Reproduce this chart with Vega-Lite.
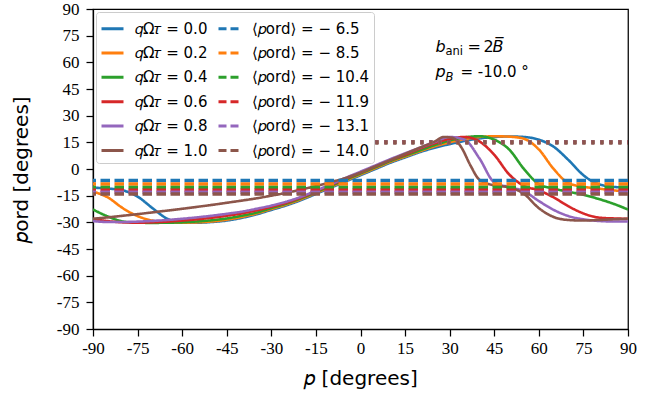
{
  "$schema": "https://vega.github.io/schema/vega-lite/v6.json",
  "width": 535,
  "height": 320,
  "autosize": {"type": "none"},
  "padding": {"left": 93, "top": 9, "right": 33, "bottom": 75},
  "background": "white",
  "config": {
    "font": "DejaVu Sans",
    "view": {"stroke": "#000", "strokeWidth": 1.25},
    "axis": {
      "domainColor": "#000", "domainWidth": 1.25,
      "tickColor": "#000", "tickWidth": 1.25, "tickSize": 7,
      "labelFont": "Liberation Serif", "labelFontSize": 17, "labelColor": "#000",
      "labelPadding": 4, "labelFlush": false, "labelOverlap": false,
      "titleFont": "DejaVu Sans", "titleFontSize": 20, "titleFontWeight": "normal", "titleColor": "#000",
      "grid": false
    },
    "legend": {
      "orient": "top-left", "offset": 3, "padding": 4,
      "strokeColor": "#cccccc", "fillColor": "white", "cornerRadius": 3,
      "symbolType": "stroke", "symbolSize": 484, "symbolStrokeWidth": 3,
      "labelFont": "DejaVu Sans", "labelFontSize": 15, "labelColor": "#000",
      "labelOffset": 10, "rowPadding": 3.4, "columnPadding": 4, "columns": 2,
      "labelLimit": 200
    },
    "text": {"font": "DejaVu Sans", "color": "#000", "align": "left", "baseline": "alphabetic"}
  },
  "datasets": {
    "curves": [
      {"s": "𝑞Ω𝜏 = 0.0", "p": -90, "v": -10.5}, {"s": "𝑞Ω𝜏 = 0.0", "p": -85, "v": -11}, {"s": "𝑞Ω𝜏 = 0.0", "p": -80, "v": -12},
      {"s": "𝑞Ω𝜏 = 0.0", "p": -75, "v": -15.5}, {"s": "𝑞Ω𝜏 = 0.0", "p": -70, "v": -22}, {"s": "𝑞Ω𝜏 = 0.0", "p": -65, "v": -28},
      {"s": "𝑞Ω𝜏 = 0.0", "p": -60, "v": -30}, {"s": "𝑞Ω𝜏 = 0.0", "p": -55, "v": -30.2}, {"s": "𝑞Ω𝜏 = 0.0", "p": -50, "v": -29.8},
      {"s": "𝑞Ω𝜏 = 0.0", "p": -45, "v": -29}, {"s": "𝑞Ω𝜏 = 0.0", "p": -40, "v": -27.5}, {"s": "𝑞Ω𝜏 = 0.0", "p": -35, "v": -25.5},
      {"s": "𝑞Ω𝜏 = 0.0", "p": -30, "v": -23}, {"s": "𝑞Ω𝜏 = 0.0", "p": -25, "v": -20.5}, {"s": "𝑞Ω𝜏 = 0.0", "p": -20, "v": -17.5},
      {"s": "𝑞Ω𝜏 = 0.0", "p": -15, "v": -14}, {"s": "𝑞Ω𝜏 = 0.0", "p": -10, "v": -10.5}, {"s": "𝑞Ω𝜏 = 0.0", "p": -5, "v": -7},
      {"s": "𝑞Ω𝜏 = 0.0", "p": 0, "v": -3.5}, {"s": "𝑞Ω𝜏 = 0.0", "p": 5, "v": 0}, {"s": "𝑞Ω𝜏 = 0.0", "p": 10, "v": 3.5},
      {"s": "𝑞Ω𝜏 = 0.0", "p": 15, "v": 6.5}, {"s": "𝑞Ω𝜏 = 0.0", "p": 20, "v": 9.5}, {"s": "𝑞Ω𝜏 = 0.0", "p": 25, "v": 12},
      {"s": "𝑞Ω𝜏 = 0.0", "p": 30, "v": 14}, {"s": "𝑞Ω𝜏 = 0.0", "p": 35, "v": 15.8}, {"s": "𝑞Ω𝜏 = 0.0", "p": 40, "v": 17.2},
      {"s": "𝑞Ω𝜏 = 0.0", "p": 45, "v": 18}, {"s": "𝑞Ω𝜏 = 0.0", "p": 50, "v": 18.3}, {"s": "𝑞Ω𝜏 = 0.0", "p": 55, "v": 18},
      {"s": "𝑞Ω𝜏 = 0.0", "p": 60, "v": 16.5}, {"s": "𝑞Ω𝜏 = 0.0", "p": 65, "v": 12.5}, {"s": "𝑞Ω𝜏 = 0.0", "p": 70, "v": 5},
      {"s": "𝑞Ω𝜏 = 0.0", "p": 75, "v": -3.5}, {"s": "𝑞Ω𝜏 = 0.0", "p": 80, "v": -8.5}, {"s": "𝑞Ω𝜏 = 0.0", "p": 85, "v": -10},
      {"s": "𝑞Ω𝜏 = 0.0", "p": 90, "v": -10.5},

      {"s": "𝑞Ω𝜏 = 0.2", "p": -90, "v": -12.7}, {"s": "𝑞Ω𝜏 = 0.2", "p": -85, "v": -16}, {"s": "𝑞Ω𝜏 = 0.2", "p": -80, "v": -22},
      {"s": "𝑞Ω𝜏 = 0.2", "p": -75, "v": -26.5}, {"s": "𝑞Ω𝜏 = 0.2", "p": -70, "v": -29}, {"s": "𝑞Ω𝜏 = 0.2", "p": -65, "v": -30},
      {"s": "𝑞Ω𝜏 = 0.2", "p": -60, "v": -30.2}, {"s": "𝑞Ω𝜏 = 0.2", "p": -55, "v": -30}, {"s": "𝑞Ω𝜏 = 0.2", "p": -50, "v": -29.5},
      {"s": "𝑞Ω𝜏 = 0.2", "p": -45, "v": -28.5}, {"s": "𝑞Ω𝜏 = 0.2", "p": -40, "v": -27}, {"s": "𝑞Ω𝜏 = 0.2", "p": -35, "v": -25},
      {"s": "𝑞Ω𝜏 = 0.2", "p": -30, "v": -22.5}, {"s": "𝑞Ω𝜏 = 0.2", "p": -25, "v": -20}, {"s": "𝑞Ω𝜏 = 0.2", "p": -20, "v": -17},
      {"s": "𝑞Ω𝜏 = 0.2", "p": -15, "v": -13.5}, {"s": "𝑞Ω𝜏 = 0.2", "p": -10, "v": -10}, {"s": "𝑞Ω𝜏 = 0.2", "p": -5, "v": -6.5},
      {"s": "𝑞Ω𝜏 = 0.2", "p": 0, "v": -3}, {"s": "𝑞Ω𝜏 = 0.2", "p": 5, "v": 0.5}, {"s": "𝑞Ω𝜏 = 0.2", "p": 10, "v": 4},
      {"s": "𝑞Ω𝜏 = 0.2", "p": 15, "v": 7}, {"s": "𝑞Ω𝜏 = 0.2", "p": 20, "v": 10}, {"s": "𝑞Ω𝜏 = 0.2", "p": 25, "v": 12.8},
      {"s": "𝑞Ω𝜏 = 0.2", "p": 30, "v": 15}, {"s": "𝑞Ω𝜏 = 0.2", "p": 35, "v": 16.8}, {"s": "𝑞Ω𝜏 = 0.2", "p": 40, "v": 18},
      {"s": "𝑞Ω𝜏 = 0.2", "p": 45, "v": 18.4}, {"s": "𝑞Ω𝜏 = 0.2", "p": 50, "v": 18.2}, {"s": "𝑞Ω𝜏 = 0.2", "p": 55, "v": 17},
      {"s": "𝑞Ω𝜏 = 0.2", "p": 60, "v": 11}, {"s": "𝑞Ω𝜏 = 0.2", "p": 65, "v": 0}, {"s": "𝑞Ω𝜏 = 0.2", "p": 70, "v": -8},
      {"s": "𝑞Ω𝜏 = 0.2", "p": 75, "v": -10}, {"s": "𝑞Ω𝜏 = 0.2", "p": 80, "v": -11}, {"s": "𝑞Ω𝜏 = 0.2", "p": 85, "v": -12},
      {"s": "𝑞Ω𝜏 = 0.2", "p": 90, "v": -12.7},

      {"s": "𝑞Ω𝜏 = 0.4", "p": -90, "v": -22.8}, {"s": "𝑞Ω𝜏 = 0.4", "p": -85, "v": -26.7}, {"s": "𝑞Ω𝜏 = 0.4", "p": -80, "v": -29.5},
      {"s": "𝑞Ω𝜏 = 0.4", "p": -75, "v": -30.2}, {"s": "𝑞Ω𝜏 = 0.4", "p": -70, "v": -30.3}, {"s": "𝑞Ω𝜏 = 0.4", "p": -65, "v": -30.2},
      {"s": "𝑞Ω𝜏 = 0.4", "p": -60, "v": -30}, {"s": "𝑞Ω𝜏 = 0.4", "p": -55, "v": -29.5}, {"s": "𝑞Ω𝜏 = 0.4", "p": -50, "v": -28.8},
      {"s": "𝑞Ω𝜏 = 0.4", "p": -45, "v": -27.8}, {"s": "𝑞Ω𝜏 = 0.4", "p": -40, "v": -26.3}, {"s": "𝑞Ω𝜏 = 0.4", "p": -35, "v": -24.5},
      {"s": "𝑞Ω𝜏 = 0.4", "p": -30, "v": -22}, {"s": "𝑞Ω𝜏 = 0.4", "p": -25, "v": -19.5}, {"s": "𝑞Ω𝜏 = 0.4", "p": -20, "v": -16.5},
      {"s": "𝑞Ω𝜏 = 0.4", "p": -15, "v": -13}, {"s": "𝑞Ω𝜏 = 0.4", "p": -10, "v": -9.5}, {"s": "𝑞Ω𝜏 = 0.4", "p": -5, "v": -6},
      {"s": "𝑞Ω𝜏 = 0.4", "p": 0, "v": -2.5}, {"s": "𝑞Ω𝜏 = 0.4", "p": 5, "v": 1}, {"s": "𝑞Ω𝜏 = 0.4", "p": 10, "v": 4.5},
      {"s": "𝑞Ω𝜏 = 0.4", "p": 15, "v": 7.5}, {"s": "𝑞Ω𝜏 = 0.4", "p": 20, "v": 10.5}, {"s": "𝑞Ω𝜏 = 0.4", "p": 25, "v": 13.5},
      {"s": "𝑞Ω𝜏 = 0.4", "p": 30, "v": 16}, {"s": "𝑞Ω𝜏 = 0.4", "p": 35, "v": 17.8}, {"s": "𝑞Ω𝜏 = 0.4", "p": 40, "v": 18.4},
      {"s": "𝑞Ω𝜏 = 0.4", "p": 45, "v": 16.5}, {"s": "𝑞Ω𝜏 = 0.4", "p": 50, "v": 11}, {"s": "𝑞Ω𝜏 = 0.4", "p": 55, "v": 0},
      {"s": "𝑞Ω𝜏 = 0.4", "p": 60, "v": -8.5}, {"s": "𝑞Ω𝜏 = 0.4", "p": 65, "v": -11}, {"s": "𝑞Ω𝜏 = 0.4", "p": 70, "v": -12.8},
      {"s": "𝑞Ω𝜏 = 0.4", "p": 75, "v": -14.5}, {"s": "𝑞Ω𝜏 = 0.4", "p": 80, "v": -16.8}, {"s": "𝑞Ω𝜏 = 0.4", "p": 85, "v": -19.5},
      {"s": "𝑞Ω𝜏 = 0.4", "p": 90, "v": -22.8},

      {"s": "𝑞Ω𝜏 = 0.6", "p": -90, "v": -28}, {"s": "𝑞Ω𝜏 = 0.6", "p": -85, "v": -29.3}, {"s": "𝑞Ω𝜏 = 0.6", "p": -80, "v": -30},
      {"s": "𝑞Ω𝜏 = 0.6", "p": -75, "v": -30.2}, {"s": "𝑞Ω𝜏 = 0.6", "p": -70, "v": -30}, {"s": "𝑞Ω𝜏 = 0.6", "p": -65, "v": -29.6},
      {"s": "𝑞Ω𝜏 = 0.6", "p": -60, "v": -29}, {"s": "𝑞Ω𝜏 = 0.6", "p": -55, "v": -28.3}, {"s": "𝑞Ω𝜏 = 0.6", "p": -50, "v": -27.4},
      {"s": "𝑞Ω𝜏 = 0.6", "p": -45, "v": -26.3}, {"s": "𝑞Ω𝜏 = 0.6", "p": -40, "v": -25}, {"s": "𝑞Ω𝜏 = 0.6", "p": -35, "v": -23.3},
      {"s": "𝑞Ω𝜏 = 0.6", "p": -30, "v": -21.3}, {"s": "𝑞Ω𝜏 = 0.6", "p": -25, "v": -19}, {"s": "𝑞Ω𝜏 = 0.6", "p": -20, "v": -16},
      {"s": "𝑞Ω𝜏 = 0.6", "p": -15, "v": -12.5}, {"s": "𝑞Ω𝜏 = 0.6", "p": -10, "v": -9}, {"s": "𝑞Ω𝜏 = 0.6", "p": -5, "v": -5.5},
      {"s": "𝑞Ω𝜏 = 0.6", "p": 0, "v": -2}, {"s": "𝑞Ω𝜏 = 0.6", "p": 5, "v": 1.5}, {"s": "𝑞Ω𝜏 = 0.6", "p": 10, "v": 5},
      {"s": "𝑞Ω𝜏 = 0.6", "p": 15, "v": 8}, {"s": "𝑞Ω𝜏 = 0.6", "p": 20, "v": 11.5}, {"s": "𝑞Ω𝜏 = 0.6", "p": 25, "v": 14.5},
      {"s": "𝑞Ω𝜏 = 0.6", "p": 30, "v": 17}, {"s": "𝑞Ω𝜏 = 0.6", "p": 35, "v": 18}, {"s": "𝑞Ω𝜏 = 0.6", "p": 40, "v": 15.5},
      {"s": "𝑞Ω𝜏 = 0.6", "p": 45, "v": 8}, {"s": "𝑞Ω𝜏 = 0.6", "p": 50, "v": -3}, {"s": "𝑞Ω𝜏 = 0.6", "p": 55, "v": -9.5},
      {"s": "𝑞Ω𝜏 = 0.6", "p": 60, "v": -12}, {"s": "𝑞Ω𝜏 = 0.6", "p": 65, "v": -16}, {"s": "𝑞Ω𝜏 = 0.6", "p": 70, "v": -21},
      {"s": "𝑞Ω𝜏 = 0.6", "p": 75, "v": -25}, {"s": "𝑞Ω𝜏 = 0.6", "p": 80, "v": -27.3}, {"s": "𝑞Ω𝜏 = 0.6", "p": 85, "v": -27.8},
      {"s": "𝑞Ω𝜏 = 0.6", "p": 90, "v": -28},

      {"s": "𝑞Ω𝜏 = 0.8", "p": -90, "v": -29.3}, {"s": "𝑞Ω𝜏 = 0.8", "p": -85, "v": -29.8}, {"s": "𝑞Ω𝜏 = 0.8", "p": -80, "v": -29.8},
      {"s": "𝑞Ω𝜏 = 0.8", "p": -75, "v": -29.6}, {"s": "𝑞Ω𝜏 = 0.8", "p": -70, "v": -29.2}, {"s": "𝑞Ω𝜏 = 0.8", "p": -65, "v": -28.7},
      {"s": "𝑞Ω𝜏 = 0.8", "p": -60, "v": -28}, {"s": "𝑞Ω𝜏 = 0.8", "p": -55, "v": -27.2}, {"s": "𝑞Ω𝜏 = 0.8", "p": -50, "v": -26.3},
      {"s": "𝑞Ω𝜏 = 0.8", "p": -45, "v": -25.2}, {"s": "𝑞Ω𝜏 = 0.8", "p": -40, "v": -24}, {"s": "𝑞Ω𝜏 = 0.8", "p": -35, "v": -22.4},
      {"s": "𝑞Ω𝜏 = 0.8", "p": -30, "v": -20.6}, {"s": "𝑞Ω𝜏 = 0.8", "p": -25, "v": -18.4}, {"s": "𝑞Ω𝜏 = 0.8", "p": -20, "v": -15.6},
      {"s": "𝑞Ω𝜏 = 0.8", "p": -15, "v": -12.2}, {"s": "𝑞Ω𝜏 = 0.8", "p": -10, "v": -8.6}, {"s": "𝑞Ω𝜏 = 0.8", "p": -5, "v": -5},
      {"s": "𝑞Ω𝜏 = 0.8", "p": 0, "v": -1.5}, {"s": "𝑞Ω𝜏 = 0.8", "p": 5, "v": 2}, {"s": "𝑞Ω𝜏 = 0.8", "p": 10, "v": 5.5},
      {"s": "𝑞Ω𝜏 = 0.8", "p": 15, "v": 8.8}, {"s": "𝑞Ω𝜏 = 0.8", "p": 20, "v": 12}, {"s": "𝑞Ω𝜏 = 0.8", "p": 25, "v": 15.2},
      {"s": "𝑞Ω𝜏 = 0.8", "p": 30, "v": 18}, {"s": "𝑞Ω𝜏 = 0.8", "p": 35, "v": 16.5}, {"s": "𝑞Ω𝜏 = 0.8", "p": 40, "v": 6},
      {"s": "𝑞Ω𝜏 = 0.8", "p": 45, "v": -7.5}, {"s": "𝑞Ω𝜏 = 0.8", "p": 50, "v": -10.2}, {"s": "𝑞Ω𝜏 = 0.8", "p": 55, "v": -12.5},
      {"s": "𝑞Ω𝜏 = 0.8", "p": 60, "v": -18}, {"s": "𝑞Ω𝜏 = 0.8", "p": 65, "v": -23}, {"s": "𝑞Ω𝜏 = 0.8", "p": 70, "v": -26.5},
      {"s": "𝑞Ω𝜏 = 0.8", "p": 75, "v": -28.3}, {"s": "𝑞Ω𝜏 = 0.8", "p": 80, "v": -29.2}, {"s": "𝑞Ω𝜏 = 0.8", "p": 85, "v": -29.5},
      {"s": "𝑞Ω𝜏 = 0.8", "p": 90, "v": -29.5},

      {"s": "𝑞Ω𝜏 = 1.0", "p": -90, "v": -28}, {"s": "𝑞Ω𝜏 = 1.0", "p": -85, "v": -27.2}, {"s": "𝑞Ω𝜏 = 1.0", "p": -80, "v": -26.3},
      {"s": "𝑞Ω𝜏 = 1.0", "p": -75, "v": -25.4}, {"s": "𝑞Ω𝜏 = 1.0", "p": -70, "v": -24.4}, {"s": "𝑞Ω𝜏 = 1.0", "p": -65, "v": -23.4},
      {"s": "𝑞Ω𝜏 = 1.0", "p": -60, "v": -22.4}, {"s": "𝑞Ω𝜏 = 1.0", "p": -55, "v": -21.3}, {"s": "𝑞Ω𝜏 = 1.0", "p": -50, "v": -20.2},
      {"s": "𝑞Ω𝜏 = 1.0", "p": -45, "v": -19}, {"s": "𝑞Ω𝜏 = 1.0", "p": -40, "v": -17.8}, {"s": "𝑞Ω𝜏 = 1.0", "p": -35, "v": -16.5},
      {"s": "𝑞Ω𝜏 = 1.0", "p": -30, "v": -15}, {"s": "𝑞Ω𝜏 = 1.0", "p": -25, "v": -13.4}, {"s": "𝑞Ω𝜏 = 1.0", "p": -20, "v": -11.6},
      {"s": "𝑞Ω𝜏 = 1.0", "p": -15, "v": -9.6}, {"s": "𝑞Ω𝜏 = 1.0", "p": -10, "v": -7.4}, {"s": "𝑞Ω𝜏 = 1.0", "p": -5, "v": -5},
      {"s": "𝑞Ω𝜏 = 1.0", "p": 0, "v": -2}, {"s": "𝑞Ω𝜏 = 1.0", "p": 5, "v": 1.5}, {"s": "𝑞Ω𝜏 = 1.0", "p": 10, "v": 5},
      {"s": "𝑞Ω𝜏 = 1.0", "p": 15, "v": 8.5}, {"s": "𝑞Ω𝜏 = 1.0", "p": 20, "v": 12}, {"s": "𝑞Ω𝜏 = 1.0", "p": 25, "v": 15.5},
      {"s": "𝑞Ω𝜏 = 1.0", "p": 28, "v": 18}, {"s": "𝑞Ω𝜏 = 1.0", "p": 31, "v": 17.5}, {"s": "𝑞Ω𝜏 = 1.0", "p": 34, "v": 12},
      {"s": "𝑞Ω𝜏 = 1.0", "p": 37, "v": 2}, {"s": "𝑞Ω𝜏 = 1.0", "p": 40, "v": -6}, {"s": "𝑞Ω𝜏 = 1.0", "p": 45, "v": -9.2},
      {"s": "𝑞Ω𝜏 = 1.0", "p": 50, "v": -10.3}, {"s": "𝑞Ω𝜏 = 1.0", "p": 55, "v": -14}, {"s": "𝑞Ω𝜏 = 1.0", "p": 60, "v": -22},
      {"s": "𝑞Ω𝜏 = 1.0", "p": 65, "v": -27}, {"s": "𝑞Ω𝜏 = 1.0", "p": 70, "v": -28.7}, {"s": "𝑞Ω𝜏 = 1.0", "p": 75, "v": -29},
      {"s": "𝑞Ω𝜏 = 1.0", "p": 80, "v": -28.7}, {"s": "𝑞Ω𝜏 = 1.0", "p": 85, "v": -28.3}, {"s": "𝑞Ω𝜏 = 1.0", "p": 90, "v": -28}
    ],
    "means": [
      {"s": "⟨𝑝ord⟩ = − 6.5", "m": -6.5},
      {"s": "⟨𝑝ord⟩ = − 8.5", "m": -8.5},
      {"s": "⟨𝑝ord⟩ = − 10.4", "m": -10.4},
      {"s": "⟨𝑝ord⟩ = − 11.9", "m": -11.9},
      {"s": "⟨𝑝ord⟩ = − 13.1", "m": -13.1},
      {"s": "⟨𝑝ord⟩ = − 14.0", "m": -14.0}
    ],
    "dotted": [
      {"s": "𝑞Ω𝜏 = 0.0", "a": 5, "b": 90, "v": 15},
      {"s": "𝑞Ω𝜏 = 0.2", "a": 5, "b": 90, "v": 15},
      {"s": "𝑞Ω𝜏 = 0.4", "a": 5, "b": 90, "v": 15},
      {"s": "𝑞Ω𝜏 = 0.6", "a": 5, "b": 90, "v": 15},
      {"s": "𝑞Ω𝜏 = 0.8", "a": 5, "b": 90, "v": 15},
      {"s": "𝑞Ω𝜏 = 1.0", "a": 5, "b": 90, "v": 15}
    ],
    "note": [{"b": 66, "p": 51.5}]
  },
  "encoding": {
    "x": {
      "type": "quantitative",
      "scale": {"domain": [-90, 90], "nice": false, "zero": false},
      "axis": {
        "title": "𝑝 [degrees]", "titlePadding": 12,
        "labelFont": "Liberation Serif",
        "values": [-90, -75, -60, -45, -30, -15, 0, 15, 30, 45, 60, 75, 90],
        "labelExpr": "datum.value + ''"
      }
    },
    "y": {
      "type": "quantitative",
      "scale": {"domain": [-90, 90], "nice": false, "zero": false},
      "axis": {
        "title": "𝑝ord [degrees]", "titlePadding": 25, "labelPadding": 7,
        "labelFont": "Liberation Serif",
        "values": [-90, -75, -60, -45, -30, -15, 0, 15, 30, 45, 60, 75, 90],
        "labelExpr": "datum.value + ''"
      }
    }
  },
  "layer": [
    {
      "data": {"name": "curves"},
      "mark": {"type": "line", "strokeWidth": 2.6, "interpolate": "monotone", "clip": true},
      "encoding": {
        "x": {"field": "p", "type": "quantitative"},
        "y": {"field": "v", "type": "quantitative"},
        "color": {
          "field": "s", "type": "nominal", "title": null,
          "scale": {
            "domain": ["𝑞Ω𝜏 = 0.0", "𝑞Ω𝜏 = 0.2", "𝑞Ω𝜏 = 0.4", "𝑞Ω𝜏 = 0.6", "𝑞Ω𝜏 = 0.8", "𝑞Ω𝜏 = 1.0", "⟨𝑝ord⟩ = − 6.5", "⟨𝑝ord⟩ = − 8.5", "⟨𝑝ord⟩ = − 10.4", "⟨𝑝ord⟩ = − 11.9", "⟨𝑝ord⟩ = − 13.1", "⟨𝑝ord⟩ = − 14.0"],
            "range": ["#1f77b4", "#ff7f0e", "#2ca02c", "#d62728", "#9467bd", "#8c564b", "#1f77b4", "#ff7f0e", "#2ca02c", "#d62728", "#9467bd", "#8c564b"]
          },
          "legend": {"title": null}
        },
        "strokeDash": {
          "field": "s", "type": "nominal", "title": null,
          "scale": {
            "domain": ["𝑞Ω𝜏 = 0.0", "𝑞Ω𝜏 = 0.2", "𝑞Ω𝜏 = 0.4", "𝑞Ω𝜏 = 0.6", "𝑞Ω𝜏 = 0.8", "𝑞Ω𝜏 = 1.0", "⟨𝑝ord⟩ = − 6.5", "⟨𝑝ord⟩ = − 8.5", "⟨𝑝ord⟩ = − 10.4", "⟨𝑝ord⟩ = − 11.9", "⟨𝑝ord⟩ = − 13.1", "⟨𝑝ord⟩ = − 14.0"],
            "range": [[1, 0], [1, 0], [1, 0], [1, 0], [1, 0], [1, 0], [8, 4], [8, 4], [8, 4], [8, 4], [8, 4], [8, 4]]
          },
          "legend": {"title": null}
        }
      }
    },
    {
      "data": {"name": "means"},
      "mark": {"type": "rule", "strokeWidth": 3.5, "strokeDash": [9.5, 4.5]},
      "encoding": {
        "y": {"field": "m", "type": "quantitative"},
        "color": {"field": "s", "type": "nominal", "title": null}
      }
    },
    {
      "data": {"name": "dotted"},
      "mark": {"type": "rule", "strokeWidth": 4, "strokeDash": [3, 6]},
      "encoding": {
        "x": {"field": "a", "type": "quantitative"},
        "x2": {"field": "b"},
        "y": {"field": "v", "type": "quantitative"},
        "color": {"field": "s", "type": "nominal", "title": null}
      }
    },
    {
      "data": {"name": "note"},
      "encoding": {"x": {"datum": 25.2}},
      "layer": [
        {"mark": {"type": "text", "fontSize": 16, "fontStyle": "italic"},
         "encoding": {"y": {"field": "b", "type": "quantitative"}, "text": {"value": "b"}}},
        {"mark": {"type": "text", "fontSize": 11.5, "dx": 10, "dy": 3.5},
         "encoding": {"y": {"field": "b", "type": "quantitative"}, "text": {"value": "ani"}}},
        {"mark": {"type": "text", "fontSize": 16, "dx": 32},
         "encoding": {"y": {"field": "b", "type": "quantitative"}, "text": {"value": "="}}},
        {"mark": {"type": "text", "fontSize": 16, "dx": 48},
         "encoding": {"y": {"field": "b", "type": "quantitative"}, "text": {"value": "2"}}},
        {"mark": {"type": "text", "fontSize": 16, "fontStyle": "italic", "dx": 57},
         "encoding": {"y": {"field": "b", "type": "quantitative"}, "text": {"value": "B̅"}}},
        {"mark": {"type": "text", "fontSize": 16, "fontStyle": "italic"},
         "encoding": {"y": {"field": "p", "type": "quantitative"}, "text": {"value": "p"}}},
        {"mark": {"type": "text", "fontSize": 11.5, "fontStyle": "italic", "dx": 10, "dy": 3.5},
         "encoding": {"y": {"field": "p", "type": "quantitative"}, "text": {"value": "B"}}},
        {"mark": {"type": "text", "fontSize": 15, "dx": 25},
         "encoding": {"y": {"field": "p", "type": "quantitative"}, "text": {"value": "= -10.0 °"}}}
      ]
    }
  ]
}
